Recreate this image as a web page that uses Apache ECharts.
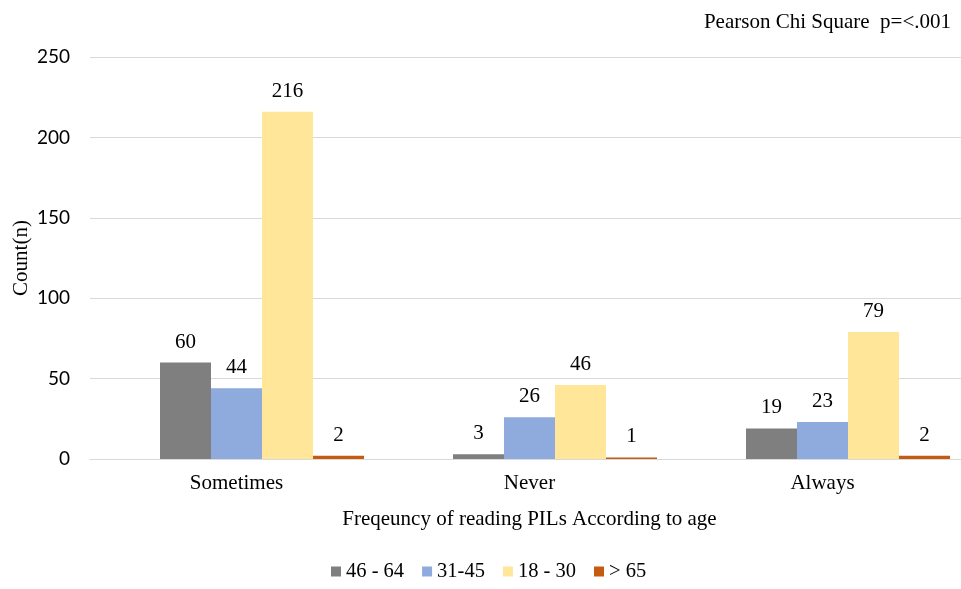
<!DOCTYPE html>
<html>
<head>
<meta charset="utf-8">
<script src="https://cdn.jsdelivr.net/npm/echarts@6/dist/echarts.min.js"></script>
<style>
  html, body { margin: 0; padding: 0; background: #fff; }
  #chart { width: 961px; height: 589px; }
</style>
</head>
<body>
<div id="chart"></div>
<script>
// Reading frequency of patient information leaflets, by age group
const categories = ['Sometimes', 'Never', 'Always'];
const age46to64 = [60, 3, 19];
const age31to45 = [44, 26, 23];
const age18to30 = [216, 46, 79];
const ageOver65 = [2, 1, 2];
const yTicks = { min: 0, max: 250, interval: 50 };

const serif = '"Liberation Serif", "Times New Roman", serif';
const sans = 'Lato, "Liberation Sans", sans-serif';

const labelStyle = {
  show: true,
  position: 'top',
  distance: 10,
  color: '#000',
  fontFamily: serif,
  fontSize: 21
};

function barSeries(name, data, color) {
  return {
    name: name,
    type: 'bar',
    data: data,
    barWidth: 51,
    barGap: '0%',
    itemStyle: { color: color },
    label: labelStyle
  };
}

const chart = echarts.init(document.getElementById('chart'), null, { renderer: 'canvas' });
chart.setOption({
  animation: false,
  backgroundColor: '#fff',
  title: {
    text: 'Pearson Chi Square  p=<.001',
    right: 5,
    top: 7,
    textStyle: { fontFamily: serif, fontSize: 21, fontWeight: 'normal', color: '#000' }
  },
  legend: {
    data: ['46 - 64', '31-45', '18 - 30', '> 65'],
    bottom: 2,
    left: 326,
    icon: 'rect',
    itemWidth: 10,
    itemHeight: 10,
    itemGap: 18,
    textStyle: { fontFamily: serif, fontSize: 20.5, color: '#000', padding: [0, 0, 0, 0] }
  },
  // plot area runs past the right edge of the canvas
  grid: { left: 90, top: 57, right: -8, height: 402, outerBoundsMode: 'none', containLabel: false },
  xAxis: {
    type: 'category',
    data: categories,
    axisTick: { show: false },
    axisLine: { lineStyle: { color: '#D9D9D9', width: 1 } },
    axisLabel: { fontFamily: serif, fontSize: 21, color: '#000', margin: 14 },
    name: 'Freqeuncy of reading PILs According to age',
    nameLocation: 'middle',
    nameGap: 50,
    nameTextStyle: { fontFamily: serif, fontSize: 21, color: '#000' }
  },
  yAxis: {
    type: 'value',
    min: yTicks.min,
    max: yTicks.max,
    interval: yTicks.interval,
    axisLine: { show: false },
    axisTick: { show: false },
    splitLine: { lineStyle: { color: '#D9D9D9', width: 1 } },
    axisLabel: { fontFamily: sans, fontSize: 19, color: '#000', margin: 20 },
    name: 'Count(n)',
    nameLocation: 'middle',
    nameRotate: 90,
    nameGap: 58,
    nameMoveOverlap: false,
    nameTextStyle: { fontFamily: serif, fontSize: 21, color: '#000' }
  },
  series: [
    // empty leading slot in each category group
    { name: 'spacer', type: 'bar', data: [], barWidth: 51, barGap: '0%' },
    barSeries('46 - 64', age46to64, '#7F7F7F'),
    barSeries('31-45', age31to45, '#8FAADC'),
    barSeries('18 - 30', age18to30, '#FFE699'),
    barSeries('> 65', ageOver65, '#C55A11')
  ]
});
</script>
</body>
</html>
